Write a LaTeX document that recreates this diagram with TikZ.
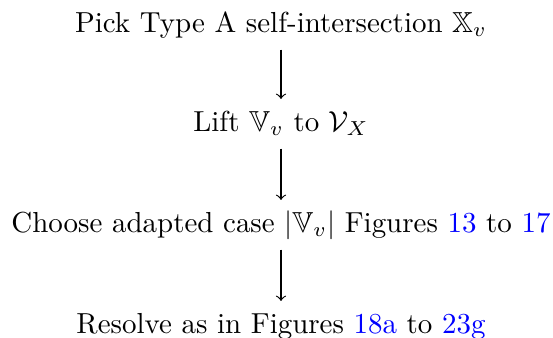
\documentclass[tikz,border=0pt]{standalone}
\usepackage{amssymb}
\newdimen\U
\newdimen\Th
\newdimen\Td
\newdimen\Ya
\newdimen\Yb
\newdimen\Yd
\newdimen\Xl
\newdimen\Xr
\newdimen\Yt
\newdimen\Ybot
\begin{document}
\settowidth{\U}{Choose adapted case $|\mathbb{V}_v|$ Figures \textcolor{blue}{13} to \textcolor{blue}{17}}%
\divide\U by 539
\Th=31.5\U \Td=17\U
\Ya=200\U \Yb=101\U \Yd=-101\U
\Xl=-281\U \Xr=272\U \Yt=232\U \Ybot=-105\U
\begin{tikzpicture}
\tikzset{lbl/.style={anchor=base, inner sep=0pt, text height=\Th, text depth=\Td},
         arr/.style={->}}
\useasboundingbox (\Xl,\Ybot) rectangle (\Xr,\Yt);
\node[lbl] (a) at (0,\Ya) {Pick Type A self-intersection $\mathbb{X}_v$};
\node[lbl] (b) at (0,\Yb) {Lift $\mathbb{V}_v$ to $\mathcal{V}_X$};
\node[lbl] (c) at (0,0) {Choose adapted case $|\mathbb{V}_v|$ Figures \textcolor{blue}{13} to \textcolor{blue}{17}};
\node[lbl] (d) at (0,\Yd) {Resolve as in Figures \textcolor{blue}{18a} to \textcolor{blue}{23g}};
\draw[arr] (a) -- (b);
\draw[arr] (b) -- (c);
\draw[arr] (c) -- (d);
\end{tikzpicture}
\end{document}
